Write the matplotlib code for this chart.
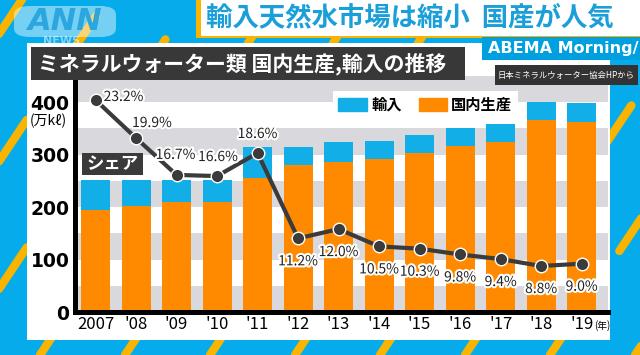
import matplotlib
matplotlib.use("Agg")
import matplotlib.pyplot as plt
import matplotlib.patheffects as pe
from matplotlib.patches import Rectangle, FancyBboxPatch
from matplotlib.lines import Line2D

plt.rcParams['font.family'] = ['Noto Sans CJK JP', 'DejaVu Sans']

# ---------------- data ----------------
years = ['2007', "'08", "'09", "'10", "'11", "'12", "'13", "'14", "'15", "'16", "'17", "'18", "'19"]
domestic = [194, 201, 209, 210, 255, 280, 286, 291, 303, 317, 324, 365, 362]   # 国内生産 (万kℓ)
imports = [58, 50, 42, 42, 59, 35, 38, 34, 34, 34, 34, 35, 37]                  # 輸入 (万kℓ)
share = [23.2, 19.9, 16.7, 16.6, 18.6, 11.2, 12.0, 10.5, 10.3, 9.8, 9.4, 8.8, 9.0]  # シェア (%)
yticks = [0, 100, 200, 300, 400]

W, H = 640, 355
fig = plt.figure(figsize=(W / 100, H / 100), dpi=100)
fig.patch.set_facecolor('#05ABEB')

def fx(x):
    return x / W

def fy(y):
    return 1 - y / H

BLUE = '#12AEE8'
ORANGE = '#FF8A00'
DARK = '#3B3B3B'

# decorative diagonal stripes on background
for x0 in range(-300, 900, 85):
    x1 = x0 + 240
    fig.add_artist(Line2D([fx(x0), fx(x1)], [fy(355), fy(-5)], transform=fig.transFigure,
                          color='#F9B400', lw=6, solid_capstyle='round',
                          dashes=(6, 9), dash_capstyle='round', zorder=0.1))

# white panel
fig.add_artist(Rectangle((fx(27), fy(340)), fx(610) - fx(27), fy(43) - fy(340),
                         transform=fig.transFigure, facecolor='white', edgecolor='none', zorder=0.5))

# ANN logo
fig.add_artist(FancyBboxPatch((fx(14), fy(37)), fx(116) - fx(14), fy(6) - fy(37),
                              boxstyle='round,pad=0,rounding_size=0.025', transform=fig.transFigure,
                              facecolor='white', alpha=0.45, edgecolor='none', zorder=0.6))
fig.text(fx(65), fy(21), 'ANN', ha='center', va='center', fontsize=22, fontweight='bold',
         style='italic', color='#2BA6DE', family='DejaVu Sans', zorder=0.7)
fig.text(fx(62), fy(41.5), 'NEWS', ha='center', va='center', fontsize=8, fontweight='bold',
         color='white', alpha=0.5, family='DejaVu Sans', zorder=0.7)

# headline box
fig.add_artist(Rectangle((fx(196), fy(38)), fx(640) - fx(196), fy(0) - fy(38),
                         transform=fig.transFigure, facecolor='#F9B400', edgecolor='none', zorder=0.6))
fig.add_artist(Rectangle((fx(201), fy(36)), fx(640) - fx(201), fy(0) - fy(36),
                         transform=fig.transFigure, facecolor='white', edgecolor='none', zorder=0.7))
fig.text(fx(206), fy(18), '輸入天然水市場は縮小  国産が人気', ha='left', va='center', fontsize=19,
         fontweight='bold', color='#1A9FD9', zorder=0.8)

# ---------------- axes ----------------
ax = fig.add_axes([fx(75), fy(312), fx(608) - fx(75), fy(75.75) - fy(312)])
ax.set_zorder(2)
ax.patch.set_visible(False)
x = list(range(len(years)))

for lo in [0, 100, 200, 300, 400]:
    ax.axhspan(lo, lo + 50, color='#D9D9DD', lw=0, zorder=0)

ax.bar(x, domestic, width=0.716, color=ORANGE, zorder=2, label='国内生産')
ax.bar(x, imports, bottom=domestic, width=0.716, color=BLUE, zorder=2, label='輸入')
ax.set_xlim(-0.506, 12.65)
ax.set_ylim(0, 450)
ax.set_yticks(yticks)
ax.set_yticklabels([str(t) for t in yticks], fontsize=13.5, fontweight='bold', color='black',
                   family='DejaVu Sans')
ax.set_xticks(x)
ax.set_xticklabels(years, fontsize=12, color='black')
ax.tick_params(axis='both', length=0)
ax.tick_params(axis='y', pad=4)
ax.tick_params(axis='x', pad=3)
for s in ['top', 'right']:
    ax.spines[s].set_visible(False)
for s in ['left', 'bottom']:
    ax.spines[s].set_linewidth(3.6)
    ax.spines[s].set_color('black')
    ax.spines[s].set_zorder(5)

# share line on twin axis
ax2 = ax.twinx()
ax2.set_zorder(3)
ax2.patch.set_visible(False)
ax2.set_ylim(4.81, 25.30)
ax2.axis('off')
ax2.plot(x, share, color=DARK, lw=3, marker='o', markersize=9, markerfacecolor=DARK,
         markeredgecolor='white', markeredgewidth=1.0, zorder=4, solid_capstyle='round')

offsets_px = [(28, 3), (16, 15), (-1, 20), (1, 19), (0, 19)] + [(0, -23)] * 8
for i, (v, (dx, dy)) in enumerate(zip(share, offsets_px)):
    ax2.annotate(f'{v:.1f}%', (x[i], v), xytext=(dx * 0.72, dy * 0.72), textcoords='offset points',
                 ha='center', va='center', fontsize=10, color='#222222', zorder=5,
                 path_effects=[pe.withStroke(linewidth=3, foreground='white')])

# legend
handles = [Rectangle((0, 0), 1, 1, color=BLUE), Rectangle((0, 0), 1, 1, color=ORANGE)]
leg = ax2.legend(handles, ['輸入', '国内生産'], ncol=2, loc='upper left',
                 bbox_to_anchor=(fx(333), fy(91)), bbox_transform=fig.transFigure,
                 frameon=True, fancybox=False, facecolor='white', edgecolor='none', framealpha=1,
                 prop={'size': 11, 'weight': 'bold'}, handlelength=1.85, handleheight=0.95,
                 handletextpad=0.3, columnspacing=1.1, borderpad=0.35, borderaxespad=0)
leg.set_zorder(6)

# chart title box
fig.add_artist(Rectangle((fx(31), fy(80)), fx(465) - fx(31), fy(47) - fy(80),
                         transform=fig.transFigure, facecolor='#383838', edgecolor='none', zorder=7))
fig.text(fx(38), fy(63.5), 'ミネラルウォーター類 国内生産,輸入の推移', ha='left', va='center',
         fontsize=15, fontweight='bold', color='white', zorder=8)

# ABEMA box
fig.add_artist(Rectangle((fx(482), fy(60)), fx(640) - fx(482), fy(37) - fy(60),
                         transform=fig.transFigure, facecolor='#00A0E0', edgecolor='none', zorder=7))
fig.text(fx(488), fy(48.5), 'ABEMA Morning/', ha='left', va='center', fontsize=11.5,
         fontweight='bold', color='white', family='DejaVu Sans', zorder=8)

# source box
fig.add_artist(Rectangle((fx(495), fy(85)), fx(638) - fx(495), fy(65) - fy(85),
                         transform=fig.transFigure, facecolor='#333333', edgecolor='none', zorder=7))
fig.text(fx(566.5), fy(75), '日本ミネラルウォーター協会HPから', ha='center', va='center',
         fontsize=6, color='white', zorder=8)

# シェア tag
fig.add_artist(Rectangle((fx(82), fy(175)), fx(143) - fx(82), fy(153) - fy(175),
                         transform=fig.transFigure, facecolor='#3A3A3A', edgecolor='none', zorder=7))
fig.text(fx(112.5), fy(164), 'シェア', ha='center', va='center', fontsize=12.5,
         fontweight='bold', color='white', zorder=8)

# unit labels
fig.text(fx(48), fy(121), '(万kℓ)', ha='center', va='center', fontsize=10, color='black', zorder=8)
fig.text(fx(602), fy(326), '(年)', ha='center', va='center', fontsize=7, color='black', zorder=8)

fig.savefig('out.png', dpi=100, facecolor=fig.get_facecolor())
